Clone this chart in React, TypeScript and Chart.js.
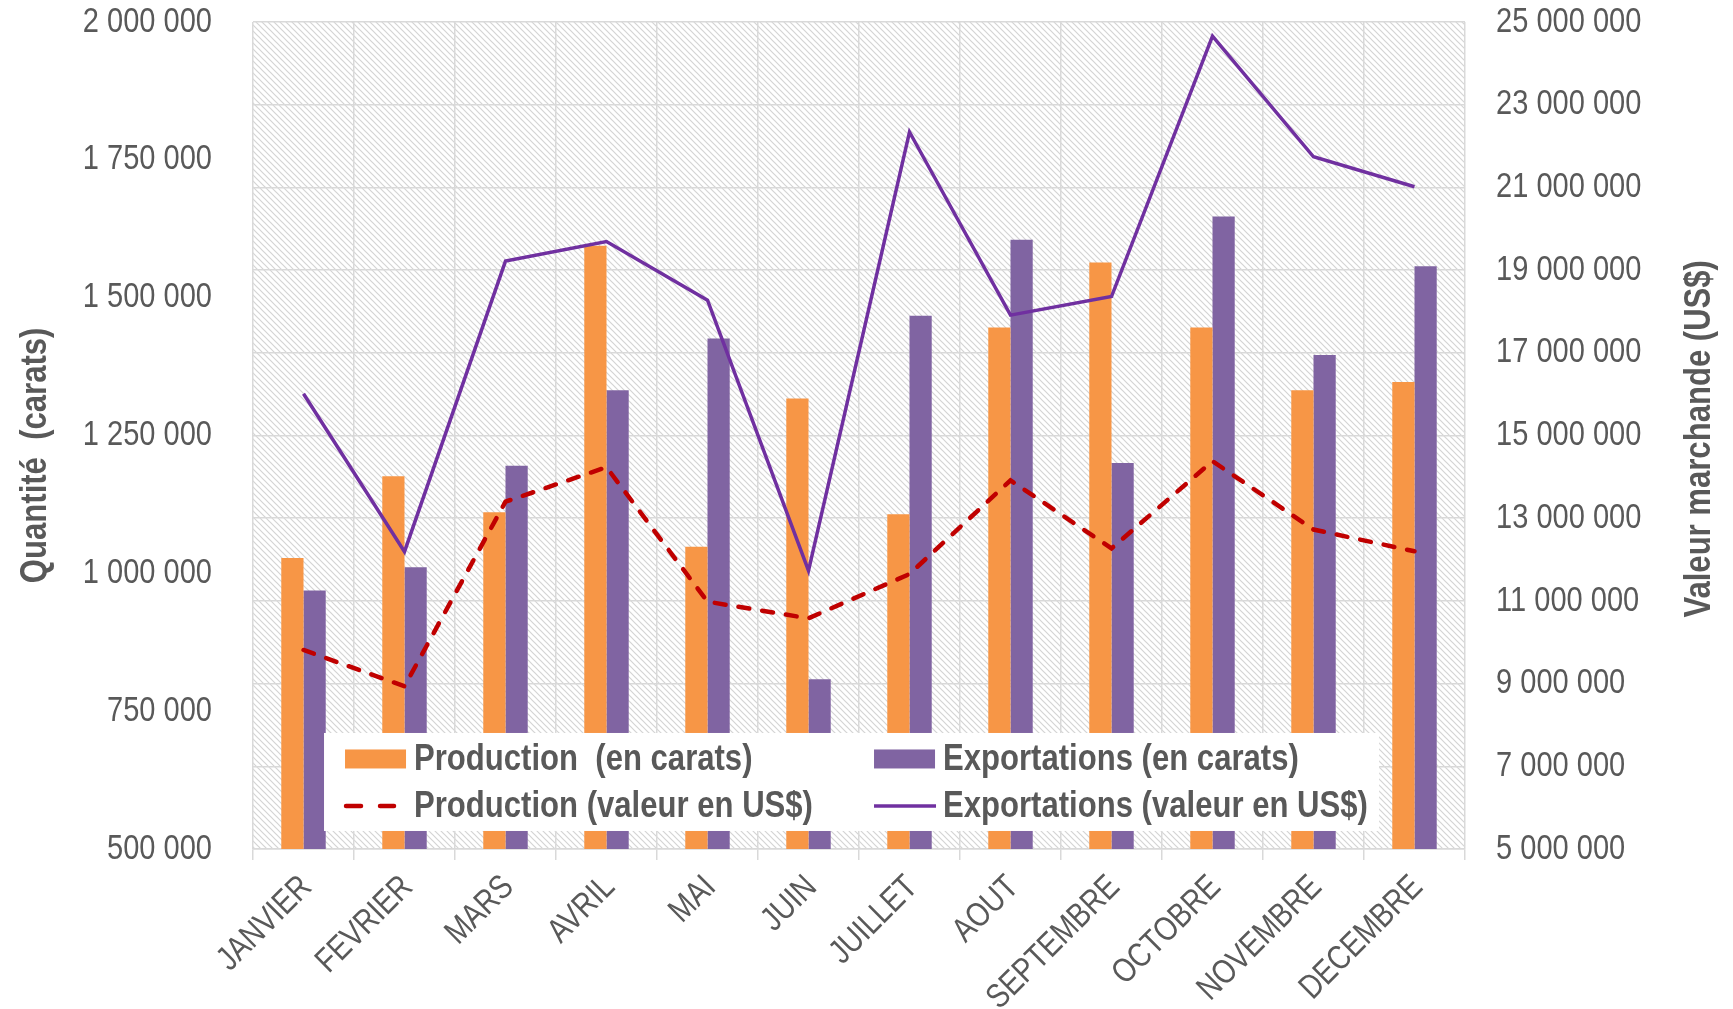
import React, { useEffect, useRef } from "react";
import { Chart, registerables } from "chart.js";

Chart.register(...registerables);

const months = ["JANVIER", "FEVRIER", "MARS", "AVRIL", "MAI", "JUIN", "JUILLET", "AOUT", "SEPTEMBRE", "OCTOBRE", "NOVEMBRE", "DECEMBRE"];
const productionCarats = [1028000, 1176000, 1111000, 1594000, 1048000, 1317000, 1107000, 1446000, 1564000, 1446000, 1332000, 1347000];
const exportCarats = [969000, 1011000, 1195000, 1332000, 1426000, 808000, 1467000, 1605000, 1200000, 1647000, 1396000, 1557000];
const productionValue = [9813000, 8935000, 13399000, 14233000, 10981000, 10579000, 11650000, 13916000, 12270000, 14380000, 12725000, 12200000];
const exportValue = [16011000, 12190000, 19218000, 19692000, 18274000, 11730000, 22340000, 17910000, 18360000, 24660000, 21740000, 21015000];

const seriesLabels = [
  "Production  (en carats)",
  "Exportations (en carats)",
  "Production (valeur en US$)",
  "Exportations (valeur en US$)",
];
const leftTitle = "Quantité  (carats)";
const rightTitle = "Valeur marchande (US$)";

const FONT = "'Liberation Sans', Arial, sans-serif";
const GREY = "#595959";

const fmt = (v: number) => String(v).replace(/\B(?=(\d{3})+(?!\d))/g, " ");

function narrowText(
  ctx: CanvasRenderingContext2D,
  text: string,
  x: number,
  y: number,
  font: string,
  sx: number,
  align: CanvasTextAlign,
  baseline: CanvasTextBaseline,
  rot = 0
) {
  ctx.save();
  ctx.translate(x, y);
  if (rot) ctx.rotate(rot);
  ctx.scale(sx, 1);
  ctx.font = font;
  ctx.fillStyle = GREY;
  ctx.textAlign = align;
  ctx.textBaseline = baseline;
  ctx.fillText(text, 0, 0);
  ctx.restore();
}

export default function App() {
  const ref = useRef<HTMLCanvasElement | null>(null);

  useEffect(() => {
    if (!ref.current) return;
    const pc = document.createElement("canvas");
    pc.width = 6;
    pc.height = 6;
    const p = pc.getContext("2d")!;
    p.fillStyle = "#ffffff";
    p.fillRect(0, 0, 6, 6);
    p.strokeStyle = "#d4d4d4";
    p.lineWidth = 1.2;
    p.beginPath();
    p.moveTo(-1, -1); p.lineTo(7, 7);
    p.moveTo(-4, 2); p.lineTo(4, 10);
    p.moveTo(2, -4); p.lineTo(10, 4);
    p.stroke();

    const bgPlugin = {
      id: "hatchBg",
      beforeDraw(chart: any) {
        const { ctx, chartArea: a } = chart;
        const pat = ctx.createPattern(pc, "repeat");
        ctx.save();
        ctx.fillStyle = pat;
        ctx.fillRect(a.left, a.top, a.right - a.left, a.bottom - a.top);
        ctx.restore();
      },
    };

    const decoPlugin = {
      id: "deco",
      afterDraw(chart: any) {
        const { ctx, chartArea: a } = chart;
        const w = a.right - a.left;
        const h = a.bottom - a.top;
        const tickFont = `35px ${FONT}`;
        const boldFont = `bold 37px ${FONT}`;

        // y tick labels
        const ys = chart.scales.y;
        ys.ticks.forEach((t: any) => {
          narrowText(ctx, fmt(t.value), a.left - 41, ys.getPixelForValue(t.value), tickFont, 0.83, "right", "middle");
        });
        const ys1 = chart.scales.y1;
        ys1.ticks.forEach((t: any) => {
          narrowText(ctx, fmt(t.value), a.right + 31, ys1.getPixelForValue(t.value), tickFont, 0.83, "left", "middle");
        });
        // x tick labels
        const xs = chart.scales.x;
        chart.data.labels.forEach((lab: string, i: number) => {
          narrowText(ctx, lab, xs.getPixelForTick(i) - 9, a.bottom + 21, `34px ${FONT}`, 0.82, "right", "top", -Math.PI / 4);
        });

        // axis titles
        narrowText(ctx, leftTitle, 36, a.top + h * 0.524, boldFont, 0.84, "center", "middle", -Math.PI / 2);
        narrowText(ctx, rightTitle, a.right + 235, a.top + h * 0.504, boldFont, 0.84, "center", "middle", -Math.PI / 2);

        // legend
        const bx0 = a.left + w * 0.0586;
        const bx1 = a.left + w * 0.9291;
        const by0 = a.top + h * 0.8597;
        const by1 = a.top + h * 0.9782;
        ctx.save();
        ctx.fillStyle = "#ffffff";
        ctx.fillRect(bx0, by0, bx1 - bx0, by1 - by0);
        const colX = [bx0 + 21, bx0 + 550];
        const rowY = [by0 + 26, by0 + 73];
        chart.data.datasets.forEach((ds: any, i: number) => {
          const x = colX[i % 2];
          const y = rowY[Math.floor(i / 2)];
          if (ds.type === "line") {
            ctx.strokeStyle = ds.borderColor;
            ctx.lineWidth = ds.borderWidth;
            if (ds.borderDash) {
              ctx.lineCap = "round";
              ctx.beginPath();
              ctx.moveTo(x + 1, y); ctx.lineTo(x + 16, y);
              ctx.moveTo(x + 35, y); ctx.lineTo(x + 49, y);
              ctx.stroke();
            } else {
              ctx.lineCap = "butt";
              ctx.beginPath();
              ctx.moveTo(x, y); ctx.lineTo(x + 62, y);
              ctx.stroke();
            }
          } else {
            ctx.fillStyle = ds.backgroundColor;
            ctx.fillRect(x, y - 9.5, 61, 19);
          }
          narrowText(ctx, ds.label, x + 69, y + 1, boldFont, 0.84, "left", "middle");
        });
        ctx.restore();
      },
    };

    const chart = new Chart(ref.current, {
      data: {
        labels: months,
        datasets: [
          {
            type: "bar",
            label: seriesLabels[0],
            data: productionCarats,
            backgroundColor: "#F79646",
            yAxisID: "y",
            order: 2,
            barPercentage: 1,
            categoryPercentage: 0.44,
          },
          {
            type: "bar",
            label: seriesLabels[1],
            data: exportCarats,
            backgroundColor: "#8064A2",
            yAxisID: "y",
            order: 2,
            barPercentage: 1,
            categoryPercentage: 0.44,
          },
          {
            type: "line",
            label: seriesLabels[2],
            data: productionValue,
            borderColor: "#C00000",
            borderWidth: 4.5,
            borderDash: [11, 13],
            borderCapStyle: "round",
            pointRadius: 0,
            yAxisID: "y1",
            order: 0,
            tension: 0,
          },
          {
            type: "line",
            label: seriesLabels[3],
            data: exportValue,
            borderColor: "#7030A0",
            borderWidth: 3.5,
            pointRadius: 0,
            yAxisID: "y1",
            order: 0,
            tension: 0,
          },
        ] as any,
      },
      plugins: [bgPlugin, decoPlugin],
      options: {
        responsive: true,
        maintainAspectRatio: false,
        animation: false,
        layout: { padding: { left: 0, right: 0, top: 22, bottom: 0 } },
        plugins: { legend: { display: false }, tooltip: { enabled: false } },
        scales: {
          x: {
            type: "category",
            offset: true,
            grid: { offset: true, color: "#d9d9d9", lineWidth: 1.5, drawTicks: true, tickLength: 11 },
            border: { color: "#d9d9d9", width: 1.5 },
            ticks: { display: false, autoSkip: false },
            afterFit: (s: any) => { s.height = 160; },
          },
          y: {
            position: "left",
            min: 500000,
            max: 2000000,
            grid: { display: false, drawTicks: false },
            border: { display: false },
            ticks: { display: false, stepSize: 250000 },
            afterFit: (s: any) => { s.width = 253; },
          },
          y1: {
            position: "right",
            min: 5000000,
            max: 25000000,
            grid: { color: "#d9d9d9", lineWidth: 1.5, drawTicks: false },
            border: { display: false },
            ticks: { display: false, stepSize: 2000000 },
            afterFit: (s: any) => { s.width = 268; },
          },
        },
      } as any,
    });
    return () => chart.destroy();
  }, []);

  return (
    <div style={{ position: "fixed", left: 0, top: 0, width: 1733, height: 1009, background: "#ffffff" }}>
      <canvas ref={ref} />
    </div>
  );
}
